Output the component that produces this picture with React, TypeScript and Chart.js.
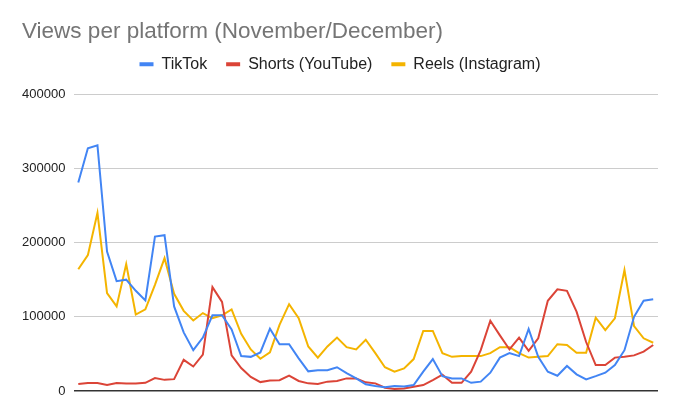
import { useEffect, useRef } from 'react';
import { Chart, registerables } from 'chart.js';

Chart.register(...registerables);

// Nov 1 .. Dec 31
const days: string[] = [];
for (let d = 1; d <= 30; d++) days.push(`Nov ${d}`);
for (let d = 1; d <= 31; d++) days.push(`Dec ${d}`);

const tiktok = [
  281000, 327000, 331000, 188000, 148000, 150000, 135000, 122000, 208000, 210000,
  114000, 79000, 55000, 72000, 102000, 102000, 83000, 47000, 46000, 52000,
  84000, 63000, 63000, 44000, 26500, 28000, 28000, 32000, 24000, 17000,
  9000, 6700, 5000, 6700, 6000, 8000, 26000, 43000, 20000, 17000,
  17000, 11000, 12600, 24700, 45000, 51000, 47000, 83500, 46000, 26000,
  20600, 33700, 22500, 15700, 20000, 24700, 35000, 55000, 100000, 121600,
  123500,
];

const shorts = [
  9400, 10800, 10800, 8000, 10800, 10000, 10000, 11000, 17500, 15000,
  16000, 42000, 33000, 49000, 140000, 120000, 48000, 31000, 19000, 12000,
  14000, 14500, 20600, 13500, 10300, 9400, 12600, 13500, 17000, 17000,
  11700, 10300, 4500, 2700, 3500, 5800, 8000, 14800, 22000, 11000,
  11000, 26000, 55000, 94700, 75000, 56000, 72000, 54000, 71000, 121600,
  137000, 135000, 107000, 66000, 35000, 35000, 45000, 46000, 48000, 53000,
  62000,
];

const reels = [
  164000, 183000, 240000, 132000, 114000, 171000, 103000, 110000, 143000, 179000,
  131000, 108000, 95000, 105000, 98000, 102000, 110000, 77000, 56000, 43500,
  52000, 89000, 117000, 98000, 60000, 45000, 60000, 72000, 59000, 56000,
  69000, 51000, 32000, 26000, 30500, 43000, 81000, 81000, 51000, 46000,
  47000, 47000, 47000, 51000, 59000, 59000, 51000, 45000, 46000, 47000,
  63000, 62000, 51600, 51600, 98700, 82000, 98000, 163000, 87500, 71000,
  65000,
];

const yTicks = [0, 100000, 200000, 300000, 400000];

const FONT = '"Liberation Sans", Arial, sans-serif';

// extra room between the legend and the plot
const legendGap = {
  id: 'legendGap',
  beforeInit(chart: any) {
    const fit = chart.legend.fit;
    chart.legend.fit = function () {
      fit.bind(chart.legend)();
      this.height += 12;
    };
  },
};

export default function App() {
  const canvasRef = useRef<HTMLCanvasElement>(null);

  useEffect(() => {
    document.body.style.margin = '0';
    if (!canvasRef.current) return;

    const chart = new Chart(canvasRef.current, {
      type: 'line',
      data: {
        labels: days,
        datasets: [
          { label: 'TikTok', data: tiktok, borderColor: '#4285F4', backgroundColor: '#4285F4' },
          { label: 'Shorts (YouTube)', data: shorts, borderColor: '#DB4437', backgroundColor: '#DB4437' },
          { label: 'Reels (Instagram)', data: reels, borderColor: '#F4B400', backgroundColor: '#F4B400' },
        ].map((ds) => ({ ...ds, borderWidth: 2, pointRadius: 0, tension: 0, fill: false })),
      },
      plugins: [legendGap],
      options: {
        animation: false,
        responsive: false,
        layout: { padding: { left: 22, right: 22, top: 27, bottom: 29 } },
        plugins: {
          title: {
            display: true,
            text: 'Views per platform (November/December)',
            align: 'start',
            color: '#757575',
            font: { family: FONT, size: 22.5, weight: 'normal', lineHeight: 0.45 },
            padding: { top: 0, bottom: 0 },
          },
          legend: {
            display: true,
            position: 'top',
            labels: {
              color: '#222222',
              font: { family: FONT, size: 16 },
              boxWidth: 14,
              boxHeight: 4,
              padding: 19,
              generateLabels: (c: Chart) =>
                Chart.defaults.plugins.legend.labels
                  .generateLabels(c)
                  .map((l: any) => ({ ...l, lineWidth: 0, strokeStyle: 'transparent' })),
            },
          },
          tooltip: { enabled: false },
        },
        scales: {
          x: { display: false, offset: true },
          y: {
            min: 0,
            max: 400000,
            afterBuildTicks: (axis: any) => {
              axis.ticks = yTicks.map((v) => ({ value: v }));
            },
            afterFit: (axis: any) => {
              axis.width = 51.5;
            },
            ticks: {
              color: '#222222',
              font: { family: FONT, size: 13 },
              padding: 8,
              callback: (v: any) => String(v),
            },
            border: { display: false },
            grid: {
              drawTicks: false,
              color: (ctx: any) => (ctx.tick && ctx.tick.value === 0 ? '#333333' : '#cccccc'),
              lineWidth: (ctx: any) => (ctx.tick && ctx.tick.value === 0 ? 1.5 : 1),
            },
          },
        },
      },
    });

    return () => chart.destroy();
  }, []);

  return (
    <div style={{ width: 680, height: 420, background: '#fff' }}>
      <canvas ref={canvasRef} width={680} height={420} />
    </div>
  );
}
